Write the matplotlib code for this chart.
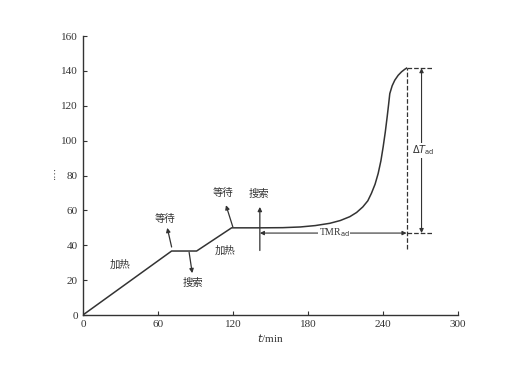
import matplotlib.pyplot as plt
import numpy as np

# temperature profile (t in min, T)
t = [0, 71, 91, 119, 141, 160, 174, 186, 197.6, 206, 213.6, 219, 224, 228, 230.9, 233.8, 236.3, 238.5,
     240.3, 242, 243.5, 244.6, 245.6, 247.5, 249.6, 252.3, 255, 257.5, 259]
T = [0, 36.7, 36.7, 50, 50, 50.1, 50.5, 51.3, 52.6, 54.2, 56.4, 58.8, 62, 65.5, 69.8, 75, 81.2, 88.5,
     96.5, 105, 113.7, 120.5, 127, 131.5, 134.7, 137.5, 139.5, 140.9, 141.6]

xticks = [0, 60, 120, 180, 240, 300]
yticks = [0, 20, 40, 60, 80, 100, 120, 140, 160]

T_top = 141.6
T_low = 47
t_end = 259
t_search = 141.6

plt.rcParams['font.family'] = ['Liberation Serif', 'Noto Sans CJK SC']
cjk = ['Noto Sans CJK SC', 'DejaVu Sans']
c = '#333333'

fig = plt.figure(figsize=(5.28, 3.68), dpi=100)
ax = fig.add_axes([0.157, 0.144, 0.71, 0.758])

ax.plot(t, T, color=c, lw=1.1)

ax.set_xlim(0, 300)
ax.set_ylim(0, 160)
ax.set_xticks(xticks)
ax.set_yticks(yticks)
ax.tick_params(direction='in', length=3, labelsize=8, colors=c, width=0.8)
for s in ['top', 'right']:
    ax.spines[s].set_visible(False)
for s in ['left', 'bottom']:
    ax.spines[s].set_color(c)
    ax.spines[s].set_linewidth(1.0)
ax.set_xlabel('$t$/min', fontsize=8, color=c, labelpad=2)
fig.text(0.104, 0.53, '····', rotation=90, fontsize=7, color=c, ha='center', va='center')

# dashed guide lines
ax.plot([t_end, 279], [T_top, T_top], ls='--', color=c, lw=0.9)
ax.plot([t_end, 279], [T_low, T_low], ls='--', color=c, lw=0.9)
ax.plot([t_end, t_end], [38, T_top], ls='--', color=c, lw=0.9)

# delta T arrow
ax.annotate('', xy=(271, T_top), xytext=(271, T_low),
            arrowprops=dict(arrowstyle='<|-|>', color=c, lw=0.8, mutation_scale=6, shrinkA=0, shrinkB=0))
ax.text(272, 94.6, r'$\Delta T_{\rm ad}$', fontsize=7, color=c, ha='center', va='center',
        bbox=dict(facecolor='white', edgecolor='none', pad=0.5))

# TMR arrow
ax.annotate('', xy=(t_search, T_low), xytext=(t_end, T_low),
            arrowprops=dict(arrowstyle='<|-|>', color=c, lw=0.8, mutation_scale=6, shrinkA=0, shrinkB=0))
ax.text(201, T_low, r'TMR$_{\rm ad}$', fontsize=7, color=c, ha='center', va='center',
        bbox=dict(facecolor='white', edgecolor='none', pad=0.5))

# step arrows and labels
arrows = [((71, 39), (67.5, 50)), ((85, 36), (87.5, 24)), ((120, 50.5), (114.5, 63)), ((t_search, 37), (t_search, 62))]
for a, b in arrows:
    ax.annotate('', xy=b, xytext=a,
                arrowprops=dict(arrowstyle='-|>', color=c, lw=0.9, mutation_scale=6, shrinkA=0, shrinkB=0))

labels = [(30, 28.7, '加热'), (113.6, 37, '加热'), (65.6, 55, '等待'), (88, 18.3, '搜索'),
          (112, 70, '等待'), (141, 69.5, '搜索')]
for x, y, s in labels:
    ax.text(x, y, s, fontsize=7.5, color=c, ha='center', va='center', family=cjk)

fig.savefig('out.png', dpi=100)
